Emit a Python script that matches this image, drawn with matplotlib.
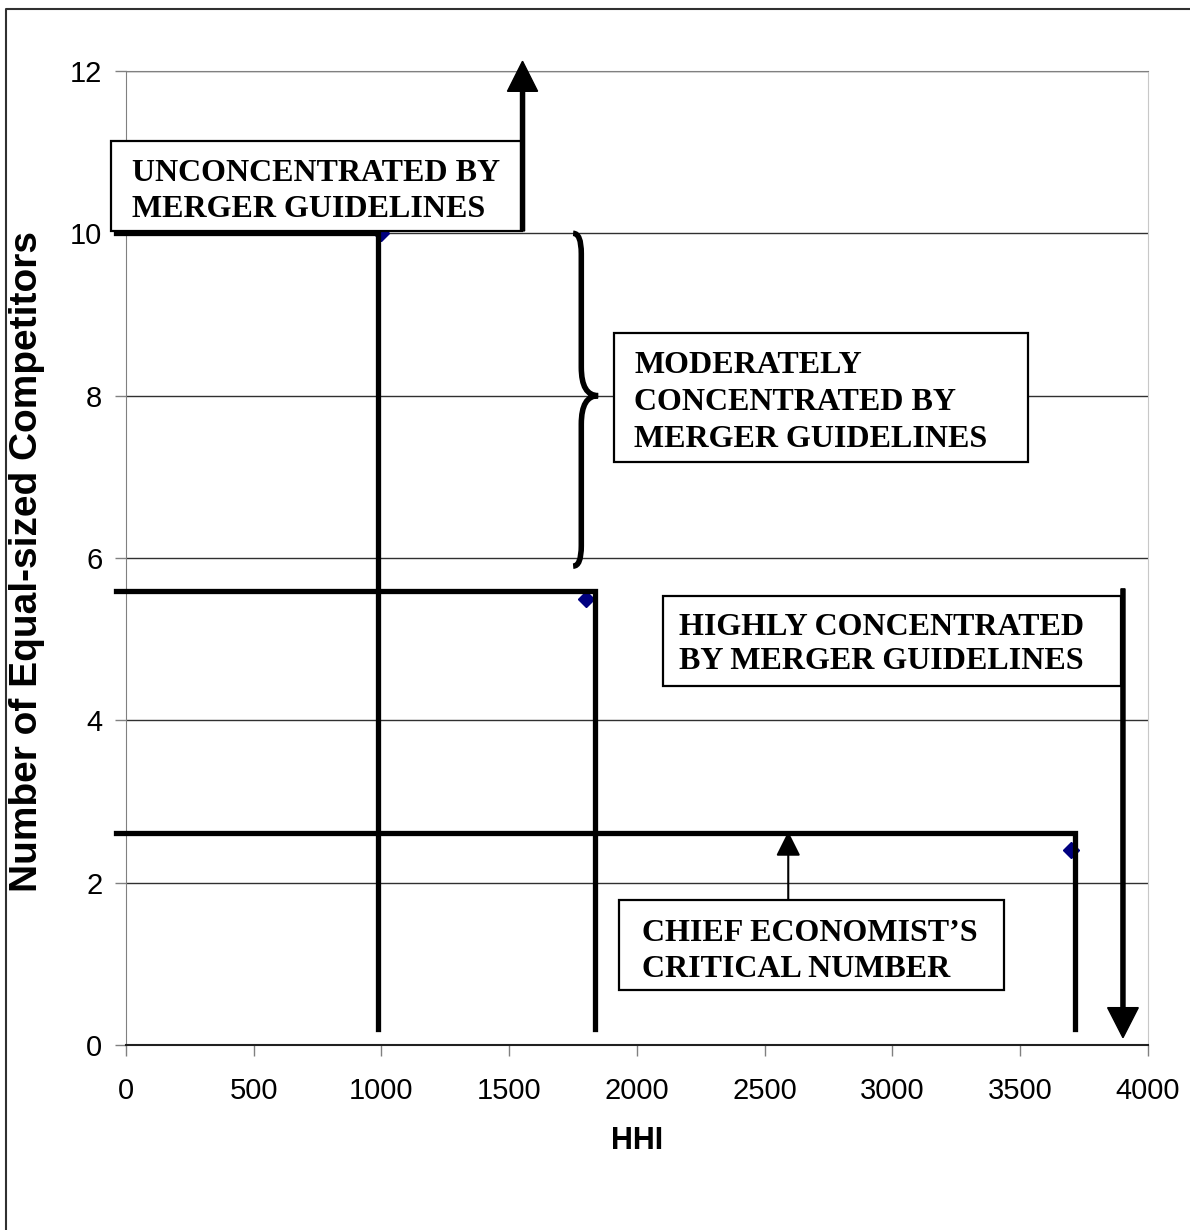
import numpy as np
import matplotlib.pyplot as plt
from matplotlib.patches import Rectangle, FancyArrow
from matplotlib.path import Path
from matplotlib.patches import PathPatch
from matplotlib.lines import Line2D

# Punti della serie (HHI, numero di concorrenti)
hhi_points = [1000, 1800, 3700]
n_points = [10, 5.5, 2.4]

# Soglie disegnate come linee spesse (livello N, HHI della verticale)
threshold_n = [10.0, 5.59, 2.61]
threshold_hhi = [985, 1834, 3715]

# Riquadri di testo
box_lines = {
    'uncon': ['UNCONCENTRATED BY', 'MERGER GUIDELINES'],
    'moder': ['MODERATELY', 'CONCENTRATED BY', 'MERGER GUIDELINES'],
    'high': ['HIGHLY CONCENTRATED', 'BY MERGER GUIDELINES'],
    'chief': ['CHIEF ECONOMIST\u2019S', 'CRITICAL NUMBER'],
}

x_ticks = [0, 500, 1000, 1500, 2000, 2500, 3000, 3500, 4000]
y_ticks = [0, 2, 4, 6, 8, 10, 12]

sans = ['Liberation Sans', 'DejaVu Sans']
serif = ['Liberation Serif', 'DejaVu Serif']

fig = plt.figure(figsize=(11.9, 12.3), dpi=100)
ax = fig.add_axes([126 / 1190, 1 - 1045 / 1230, (1148 - 126) / 1190, (1045 - 71) / 1230])
ax.set_xlim(0, 4000)
ax.set_ylim(0, 12)
ax.set_xticks(x_ticks)
ax.set_yticks(y_ticks)
ax.set_xticklabels([str(v) for v in x_ticks], family=sans, fontsize=21)
ax.set_yticklabels([str(v) for v in y_ticks], family=sans, fontsize=21)
ax.tick_params(axis='both', direction='out', length=8, width=1, color='#808080')
ax.tick_params(axis='x', pad=15)
ax.tick_params(axis='y', pad=9)
ax.yaxis.grid(True, color='#303030', linewidth=1)
ax.set_axisbelow(True)
ax.spines['left'].set_color('#808080')
ax.spines['top'].set_color('#808080')
ax.spines['right'].set_color('#c8c8c8')
ax.spines['bottom'].set_color('#202020')
ax.spines['bottom'].set_linewidth(1.5)

ax.set_xlabel('HHI', family=sans, fontweight='bold', fontsize=22)
ax.xaxis.set_label_coords(0.5, -(1126 - 1045) / 974)
ax.set_ylabel('Number of Equal-sized Competitors', family=sans,
              fontweight='bold', fontsize=28)
ax.yaxis.set_label_coords(-(126 - 45) / 1022, (1045 - 562) / 974)

# punti blu
ax.plot(hhi_points, n_points, linestyle='none', marker='D', markersize=8,
        color='#000080', zorder=3)

# linee a L spesse
for n, h in zip(threshold_n, threshold_hhi):
    ax.plot([-40, h, h], [n, n, 0.2], color='black', linewidth=3.8,
            solid_joinstyle='miter', clip_on=False, zorder=4)


def draw_box(x0, x1, y0, y1, lines, tx, ty, dy):
    ax.add_patch(Rectangle((x0, y0), x1 - x0, y1 - y0, facecolor='white',
                           edgecolor='black', linewidth=1.6, clip_on=False, zorder=5))
    for i, s in enumerate(lines):
        ax.text(tx, ty - i * dy, s, family=serif, fontweight='bold', fontsize=23,
                ha='left', va='baseline', zorder=6)


dy = 37 / 81.08
draw_box(-57, 1551, 10.03, 11.14, box_lines['uncon'], 25, (1045 - 182) / 81.08, dy * 0.97)
draw_box(1911, 3530, 7.18, 8.77, box_lines['moder'], 1990, (1045 - 374) / 81.08, dy)
draw_box(2103, 3894, 4.42, 5.53, box_lines['high'], 2165, (1045 - 635) / 81.08, dy * 0.92)
draw_box(1930, 3437, 0.68, 1.79, box_lines['chief'], 2020, (1045 - 941) / 81.08, dy * 0.97)

# frecce spesse
ax.add_patch(FancyArrow(1552, 10.03, 0, 2.09, width=16, head_width=118,
                        head_length=0.37, length_includes_head=True, color='black',
                        clip_on=False, zorder=7))
ax.add_patch(FancyArrow(3902, 5.62, 0, -5.53, width=16, head_width=120,
                        head_length=0.37, length_includes_head=True, color='black',
                        clip_on=False, zorder=7))
# freccia sottile
ax.annotate('', xy=(2592, 2.63), xytext=(2592, 1.79),
            arrowprops=dict(arrowstyle='-|>,head_length=1.5,head_width=0.75',
                            color='black', linewidth=1.5, shrinkA=0, shrinkB=0),
            zorder=7)

# parentesi graffa
xs, xt, xh = 1782, 1848, 1750
yt, ym, yb = 10.0, 8.0, 5.9
verts = [(xh, yt), (xs, yt), (xs, yt - 0.25), (xs, yt - 0.4),
         (xs, ym + 0.35), (xs, ym), (xt, ym),
         (xs, ym), (xs, ym - 0.35),
         (xs, yb + 0.4), (xs, yb + 0.25), (xs, yb), (xh, yb)]
codes = [Path.MOVETO, Path.CURVE3, Path.CURVE3, Path.LINETO,
         Path.LINETO, Path.CURVE3, Path.CURVE3,
         Path.CURVE3, Path.CURVE3,
         Path.LINETO, Path.LINETO, Path.CURVE3, Path.CURVE3]
ax.add_patch(PathPatch(Path(verts, codes), facecolor='none', edgecolor='black',
                       linewidth=4, clip_on=False, zorder=7))

# bordo esterno
fig.add_artist(Line2D([6 / 1190, 6 / 1190, 1.1], [-0.1, 1 - 9 / 1230, 1 - 9 / 1230],
                      color='#303030', linewidth=1.5))

fig.savefig('out.png', dpi=100)
